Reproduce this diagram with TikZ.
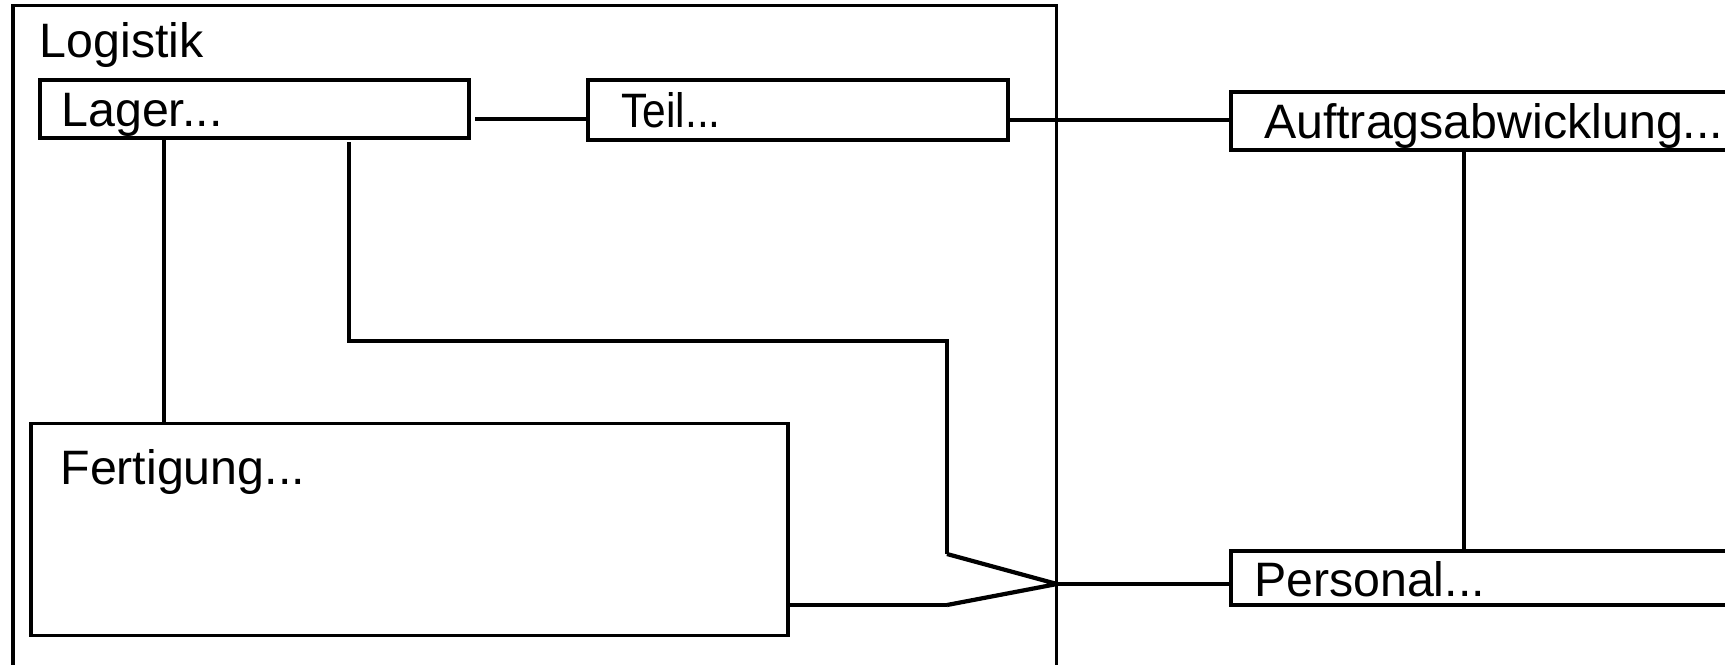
\documentclass[tikz,border=0pt]{standalone}
\usepackage{fontspec}
\setmainfont{Liberation Sans}
\usepackage{tikz}
\usetikzlibrary{positioning}
\tikzset{
  box/.style={rectangle, draw, line width=1.9pt, outer sep=0pt, anchor=north west, align=left},
  onebox/.style={box, inner ysep=0pt, text height=0.72cm, text depth=0pt},
  link/.style={line width=1.9pt},
  forkline/.style={line width=2.4pt, line join=miter},
}

\begin{document}
\begin{tikzpicture}[x=0.02cm, y=-0.02cm, font=\fontsize{27.5pt}{30pt}\selectfont]
  \useasboundingbox (0,0) rectangle (1725,664);
  \clip (0,0) rectangle (1725,664);

  \node[box, inner xsep=0.54cm, inner ysep=0.33cm, text width=19.8cm, text depth=12.65cm] (logistik) at (13,5.5) {Logistik};

  \node[onebox, inner xsep=0.43cm, text width=7.72cm, minimum height=1.16cm, text depth=-0.08cm] (lager) at (40,80) {Lager...};
  \node[onebox, inner xsep=0.67cm, text width=7.06cm, minimum height=1.2cm, text depth=-0.14cm] (teil) at (588,80) {\scalebox{0.88}[1]{Teil...}};
  \node[box, inner xsep=0.59cm, inner ysep=0.51cm, text width=13.96cm, text depth=2.52cm] (fertigung) at (31,423.5) {Fertigung...};

  \node[onebox, inner xsep=0.66cm, text width=9.28cm, minimum height=1.16cm] (auftrag) at (1231,92) {Auftragsabwicklung...};
  \node[onebox, inner xsep=0.46cm, text width=9.68cm, minimum height=1.08cm] (personal) at (1231,551) {Personal...};

  \coordinate (lagerout) at (475,119);
  \coordinate (teilout) at (1008,120);
  \coordinate (bend) at (947,341);
  \coordinate (forkup) at (947,554);
  \coordinate (forklow) at (947,605);
  \coordinate (fork) at (1057,584);

  \draw[link] (lagerout) -- (lagerout -| teil.west);
  \draw[link] (teilout) -- (teilout -| auftrag.west);
  \draw[link] ([xshift=4.66cm]auftrag.south west) -- ([xshift=4.66cm]personal.north west);
  \draw[link] ([xshift=2.48cm]lager.south west) -- ([xshift=2.48cm]lager.south west |- fertigung.north);

  \draw[link] ([shift={(6.18cm,-0.09cm)}]lager.south west) |- (bend) -- (forkup);
  \draw[forkline] (forkup) -- (fork) -- (forklow);
  \draw[link] (forklow) -- (fertigung.east |- forklow);
  \draw[link] (fork) -- (fork -| personal.west);
\end{tikzpicture}
\end{document}
